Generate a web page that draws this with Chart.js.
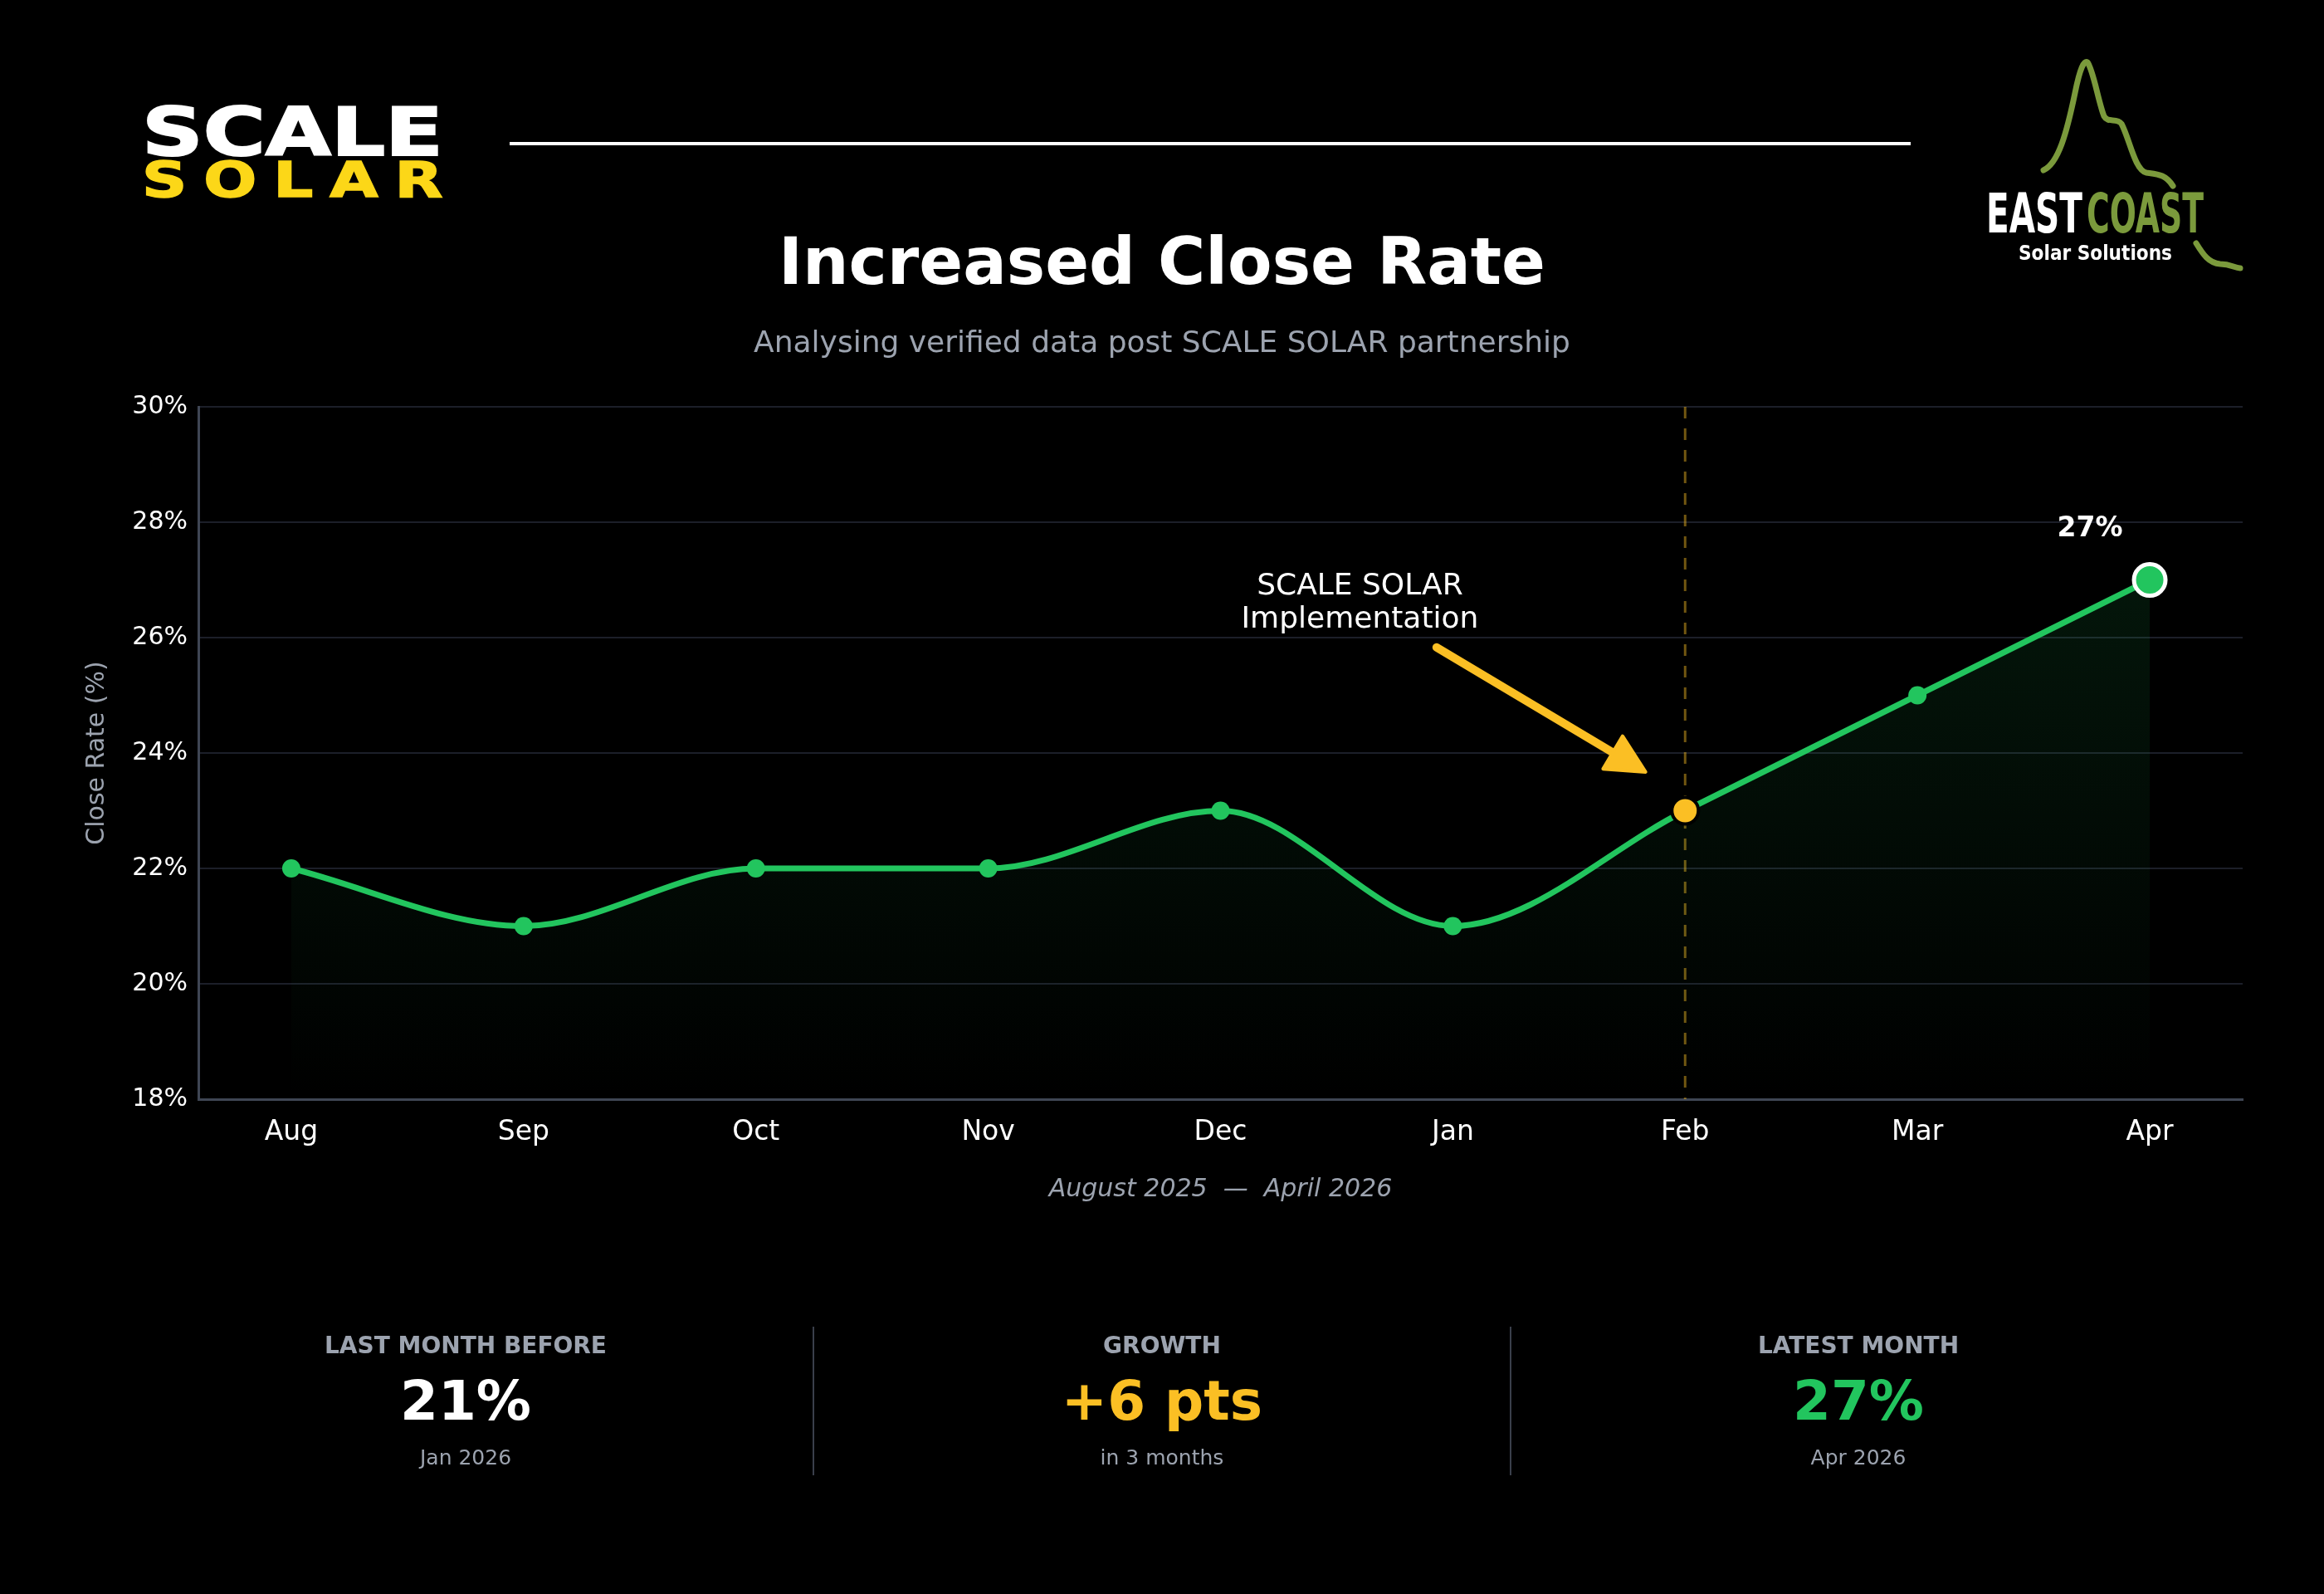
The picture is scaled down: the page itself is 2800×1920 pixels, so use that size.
<!DOCTYPE html>
<html>
<head>
<meta charset="utf-8">
<script src="https://cdn.jsdelivr.net/npm/chart.js@4.4.1/dist/chart.umd.min.js"></script>
<style>
  html, body { margin: 0; padding: 0; background: #000; }
  #page { position: relative; width: 2800px; height: 1920px; background: #000; overflow: hidden; font-family: 'DejaVu Sans', sans-serif; }
  #chart { position: absolute; left: 0; top: 0; }
  #deco { position: absolute; left: 0; top: 0; }
  .txt { position: absolute; white-space: nowrap; line-height: 1; transform: translateX(-50%); }
  .title { left: 1400px; top: 276px; font-size: 78px; font-weight: bold; color: #fff; }
  .subtitle { left: 1400px; top: 394px; font-size: 36px; color: #9ca3af; }
  .stat-label { font-size: 28px; font-weight: bold; color: #9ca3af; top: 1607px; }
  .stat-value { font-size: 66px; font-weight: bold; top: 1655px; }
  .stat-sub { font-size: 25px; color: #9ca3af; top: 1743px; }
  .divider { position: absolute; top: 1598px; width: 2px; height: 179px; background: #3a3f4b; }
</style>
</head>
<body>
<div id="page">
  <canvas id="chart" width="2800" height="1920"></canvas>

  <svg id="deco" width="2800" height="1920" viewBox="0 0 2800 1920">
    <!-- SCALE SOLAR logo -->
    <text x="171" y="187" font-family="DejaVu Sans" font-weight="bold" font-size="80" fill="#ffffff"
          stroke="#ffffff" stroke-width="2"
          textLength="363" lengthAdjust="spacingAndGlyphs">SCALE</text>
    <g transform="scale(1.3,1)">
      <text x="131.5" y="237" font-family="DejaVu Sans" font-weight="bold" font-size="58" fill="#fcd718"
            stroke="#fcd718" stroke-width="1.5"
            textLength="279" lengthAdjust="spacing">SOLAR</text>
    </g>
    <!-- header rule -->
    <rect x="614" y="171" width="1688" height="4" fill="#ffffff"/>
    <!-- East Coast logo -->
    <path d="M2462,205 C2480,197 2490,160 2500,112 C2506,82 2511,72 2515,75 C2522,84 2528,122 2535,140 C2540,149 2550,141 2556,149 C2566,168 2572,205 2586,208 C2600,210 2609,210 2618,224"
          fill="none" stroke="#7b9a3c" stroke-width="7" stroke-linecap="round" stroke-linejoin="round"/>
    <path d="M2646,293 C2654,306 2661,317 2675,318 C2688,318 2692,323 2699,323"
          fill="none" stroke="#7b9a3c" stroke-width="7" stroke-linecap="round"/>
    <text x="2393" y="280" font-family="DejaVu Sans" font-weight="bold" font-size="66" fill="#ffffff"
          textLength="116" lengthAdjust="spacingAndGlyphs">EAST</text>
    <text x="2514" y="280" font-family="DejaVu Sans" font-weight="bold" font-size="66" fill="#7b9a3c"
          textLength="141" lengthAdjust="spacingAndGlyphs">COAST</text>
    <text x="2432" y="313" font-family="DejaVu Sans" font-weight="bold" font-size="25" fill="#ffffff"
          textLength="185" lengthAdjust="spacingAndGlyphs">Solar Solutions</text>
  </svg>

  <div class="txt title">Increased Close Rate</div>
  <div class="txt subtitle">Analysing verified data post SCALE SOLAR partnership</div>

  <div class="txt stat-label" style="left:561px">LAST MONTH BEFORE</div>
  <div class="txt stat-value" id="beforeVal" style="left:561px; color:#ffffff"></div>
  <div class="txt stat-sub" id="beforeSub" style="left:561px"></div>

  <div class="divider" style="left:979px"></div>

  <div class="txt stat-label" style="left:1400px">GROWTH</div>
  <div class="txt stat-value" id="growthVal" style="left:1400px; color:#fbbf24"></div>
  <div class="txt stat-sub" id="growthSub" style="left:1400px"></div>

  <div class="divider" style="left:1819px"></div>

  <div class="txt stat-label" style="left:2239px">LATEST MONTH</div>
  <div class="txt stat-value" id="latestVal" style="left:2239px; color:#22c55e"></div>
  <div class="txt stat-sub" id="latestSub" style="left:2239px"></div>
</div>

<script>
// --- DATA ---
const months = ['Aug', 'Sep', 'Oct', 'Nov', 'Dec', 'Jan', 'Feb', 'Mar', 'Apr'];
const monthYears = ['2025', '2025', '2025', '2025', '2025', '2026', '2026', '2026', '2026'];
const closeRate = [22, 21, 22, 22, 23, 21, 23, 25, 27];
const yTicks = [18, 20, 22, 24, 26, 28, 30];

// --- ANNOTATION SETUP ---
const implIdx = months.indexOf('Feb');
const lastIdx = closeRate.length - 1;
const beforeIdx = implIdx - 1;
const annoText = ['SCALE SOLAR', 'Implementation'];
const annoAt = { x: 4.6, y: 26.6 };
const arrowFrom = { x: 4.93, y: 25.83 };
const arrowTo = { x: 5.83, y: 23.67 };

const GREEN = '#22c55e';
const YELLOW = '#fbbf24';
const FONT = "'DejaVu Sans', sans-serif";

// stat cards
document.getElementById('beforeVal').textContent = closeRate[beforeIdx] + '%';
document.getElementById('beforeSub').textContent = months[beforeIdx] + ' ' + monthYears[beforeIdx];
document.getElementById('growthVal').textContent = '+' + (closeRate[lastIdx] - closeRate[beforeIdx]) + ' pts';
document.getElementById('growthSub').textContent = 'in ' + (lastIdx - beforeIdx) + ' months';
document.getElementById('latestVal').textContent = closeRate[lastIdx] + '%';
document.getElementById('latestSub').textContent = months[lastIdx] + ' ' + monthYears[lastIdx];

const overlays = {
  id: 'overlays',
  beforeDatasetsDraw(chart) {
    const { ctx, chartArea, scales } = chart;
    const x = scales.x.getPixelForValue(implIdx);
    ctx.save();
    ctx.strokeStyle = 'rgba(251,191,36,0.45)';
    ctx.lineWidth = 3;
    ctx.setLineDash([14, 12]);
    ctx.beginPath();
    ctx.moveTo(x, chartArea.top);
    ctx.lineTo(x, chartArea.bottom);
    ctx.stroke();
    ctx.restore();
  },
  afterDatasetsDraw(chart) {
    const { ctx, scales } = chart;
    const px = (p) => ({ x: scales.x.getPixelForValue(p.x), y: scales.y.getPixelForValue(p.y) });

    // arrow
    const a = px(arrowFrom);
    const b = px(arrowTo);
    const len = Math.hypot(b.x - a.x, b.y - a.y);
    const ux = (b.x - a.x) / len, uy = (b.y - a.y) / len;
    const headLen = 46, headW = 23;
    const bx = b.x - ux * headLen, by = b.y - uy * headLen;
    ctx.save();
    ctx.strokeStyle = YELLOW;
    ctx.fillStyle = YELLOW;
    ctx.lineWidth = 10;
    ctx.lineCap = 'round';
    ctx.beginPath();
    ctx.moveTo(a.x, a.y);
    ctx.lineTo(bx + ux * 4, by + uy * 4);
    ctx.stroke();
    ctx.lineJoin = 'round';
    ctx.lineWidth = 4;
    ctx.beginPath();
    ctx.moveTo(b.x, b.y);
    ctx.lineTo(bx - uy * headW, by + ux * headW);
    ctx.lineTo(bx + uy * headW, by - ux * headW);
    ctx.closePath();
    ctx.fill();
    ctx.stroke();

    // annotation text
    const t = px(annoAt);
    ctx.fillStyle = '#ffffff';
    ctx.font = '36px ' + FONT;
    ctx.textAlign = 'center';
    ctx.textBaseline = 'middle';
    ctx.fillText(annoText[0], t.x, t.y - 20);
    ctx.fillText(annoText[1], t.x, t.y + 20);

    // last value label
    const p = px({ x: lastIdx, y: closeRate[lastIdx] });
    ctx.font = 'bold 33px ' + FONT;
    ctx.fillText(closeRate[lastIdx] + '%', p.x - 72, p.y - 61);
    ctx.restore();
  }
};

new Chart(document.getElementById('chart'), {
  type: 'line',
  data: {
    datasets: [{
      label: 'Close Rate',
      data: closeRate.map((v, i) => ({ x: i, y: v })),
      borderColor: GREEN,
      borderWidth: 7,
      cubicInterpolationMode: 'monotone',
      fill: 'start',
      backgroundColor: (c) => {
        const area = c.chart.chartArea;
        if (!area) return 'rgba(0,0,0,0)';
        const g = c.chart.ctx.createLinearGradient(0, area.top, 0, area.bottom);
        g.addColorStop(0, 'rgba(34,197,94,0.15)');
        g.addColorStop(1, 'rgba(34,197,94,0)');
        return g;
      },
      pointRadius: (c) => c.dataIndex === implIdx ? 16 : c.dataIndex === lastIdx ? 19 : 11,
      pointBackgroundColor: (c) => c.dataIndex === implIdx ? YELLOW : GREEN,
      pointBorderColor: (c) => c.dataIndex === implIdx ? '#000000' : c.dataIndex === lastIdx ? '#ffffff' : GREEN,
      pointBorderWidth: (c) => c.dataIndex === implIdx ? 4 : c.dataIndex === lastIdx ? 5 : 0,
    }],
  },
  options: {
    responsive: false,
    animation: false,
    devicePixelRatio: 1,
    layout: { padding: { left: 99, right: 98, top: 490, bottom: 456 } },
    plugins: {
      legend: { display: false },
      tooltip: { enabled: false },
    },
    scales: {
      x: {
        type: 'linear',
        min: -0.4,
        max: 8.4,
        afterBuildTicks: (s) => { s.ticks = months.map((m, i) => ({ value: i })); },
        afterFit: (s) => { s.height = 140; },
        ticks: {
          callback: (v) => months[v],
          color: '#ffffff',
          font: { family: FONT, size: 33 },
          padding: 13,
          autoSkip: false,
          maxRotation: 0,
        },
        grid: { display: false },
        border: { color: '#3f4654', width: 3 },
        title: {
          display: true,
          text: 'August 2025  —  April 2026',
          color: '#9ca3af',
          font: { family: FONT, size: 30, style: 'italic' },
          padding: { top: 0, bottom: 13 },
        },
      },
      y: {
        min: 18,
        max: 30,
        afterBuildTicks: (s) => { s.ticks = yTicks.map((v) => ({ value: v })); },
        afterFit: (s) => { s.width = 140; },
        ticks: {
          callback: (v) => v + '%',
          color: '#ffffff',
          font: { family: FONT, size: 30 },
          padding: 13,
        },
        grid: { color: '#1c1f29', lineWidth: 2, drawTicks: false },
        border: { color: '#3f4654', width: 3 },
        title: {
          display: true,
          text: 'Close Rate (%)',
          color: '#9ca3af',
          font: { family: FONT, size: 30 },
          padding: { top: 0, bottom: 0 },
        },
      },
    },
  },
  plugins: [overlays],
});
</script>
</body>
</html>
